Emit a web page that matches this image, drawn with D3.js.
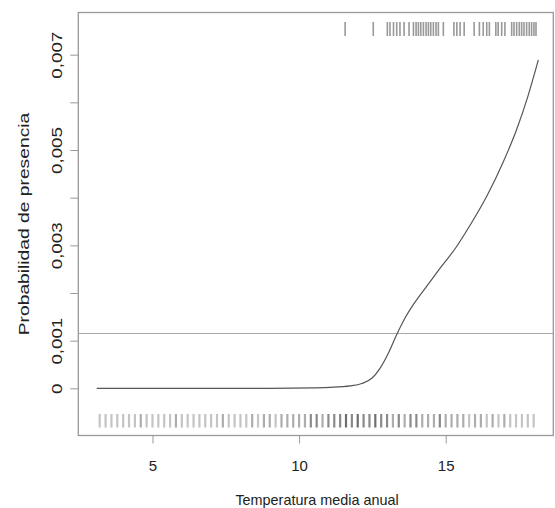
<!DOCTYPE html>
<html><head><meta charset="utf-8">
<script src="https://cdn.jsdelivr.net/npm/d3@7"></script>
<style>body{margin:0;background:#fff}svg{display:block}text{font-family:"Liberation Sans",Arial,sans-serif;fill:#222}</style>
</head><body><svg id="c" width="555" height="508"></svg>
<script>
// curve: probability of presence vs mean annual temperature
const curveX = [3.1, 6, 9, 10.5, 11.06, 11.74, 12.14, 12.48, 12.76, 13.04, 13.33, 13.6, 13.9, 14.35, 14.81, 15.38, 15.83, 16.4, 16.97, 17.42, 17.8, 18.16];
const curveY = [0, 0, 0, 0.00001, 0.00002, 0.00005, 0.0001, 0.00021, 0.00042, 0.00073, 0.00113, 0.00146, 0.00176, 0.00214, 0.00252, 0.00298, 0.00342, 0.00403, 0.00476, 0.00543, 0.00612, 0.00689];
const threshold = 0.00115;
// presences (top rug)
const rugTop = [11.57, 12.53, 13.01, 13.10, 13.22, 13.33, 13.44, 13.58, 13.75, 13.90, 13.99, 14.07, 14.15, 14.24, 14.33, 14.41, 14.49, 14.58, 14.67, 14.75, 14.92, 15.28, 15.38, 15.49, 15.63, 15.97, 16.15, 16.28, 16.40, 16.49, 16.71, 16.79, 16.91, 17.02, 17.25, 17.33, 17.42, 17.51, 17.59, 17.67, 17.76, 17.85, 17.93, 18.01, 18.08];
// all sites (bottom rug) with counts
const rugBottom = [3.2,3.4,3.6,3.8,4.0,4.2,4.4,4.6,4.8,5.0,5.2,5.4,5.6,5.8,6.0,6.2,6.4,6.6,6.8,7.0,7.2,7.4,7.6,7.8,8.0,8.2,8.4,8.6,8.8,9.0,9.2,9.4,9.6,9.8,10.0,10.2,10.4,10.6,10.8,11.0,11.2,11.4,11.6,11.8,12.0,12.2,12.4,12.6,12.8,13.0,13.2,13.4,13.6,13.8,14.0,14.2,14.4,14.6,14.8,15.0,15.2,15.4,15.6,15.8,16.0,16.2,16.4,16.6,16.8,17.0,17.2,17.4,17.6,17.8,18.0];
const rugBottomN = [1,1,1,1,1,1,1,2,1,1,1,1,1,2,1,1,1,1,1,1,1,2,1,1,1,1,2,1,2,2,1,2,2,2,2,2,3,3,2,3,3,3,4,3,4,3,3,4,3,3,2,3,2,3,3,2,2,2,3,2,2,2,2,1,2,2,1,2,1,2,1,1,1,1,1];
const xTicks = [5, 10, 15];
const yTicks = [0, 0.001, 0.002, 0.003, 0.004, 0.005, 0.006, 0.007];
const yLabels = {0: "0", 0.001: "0,001", 0.003: "0,003", 0.005: "0,005", 0.007: "0,007"};
const xTitle = "Temperatura media anual";
const yTitle = "Probabilidad de presencia";

const L = 78.3, R = 553.3, T = 12.5, B = 435.5;
const x = d3.scaleLinear().domain([2.47, 18.67]).range([L, R]);
const y = d3.scaleLinear().domain([-0.00099, 0.007885]).range([B, T]);
const svg = d3.select("#c");

// rugs
const gray = n => ["#c4c4c4", "#adadad", "#8a8a8a", "#6e6e6e"][Math.min(n, 4) - 1];
svg.append("g").selectAll("line").data(rugBottom).join("line")
  .attr("x1", d => x(d)).attr("x2", d => x(d)).attr("y1", 414).attr("y2", 427.5)
  .attr("stroke", (d, i) => gray(rugBottomN[i])).attr("stroke-width", 2.2);
svg.append("g").selectAll("line").data(rugTop).join("line")
  .attr("x1", d => x(d)).attr("x2", d => x(d)).attr("y1", 22).attr("y2", 36)
  .attr("stroke", "#999").attr("stroke-width", 1.6);

// threshold line
svg.append("line").attr("x1", L).attr("x2", R).attr("y1", y(threshold)).attr("y2", y(threshold))
  .attr("stroke", "#aaa").attr("stroke-width", 1);

// curve
const pts = curveX.map((v, i) => [v, curveY[i]]);
svg.append("path").datum(pts)
  .attr("d", d3.line().x(d => x(d[0])).y(d => y(d[1])).curve(d3.curveMonotoneX))
  .attr("fill", "none").attr("stroke", "#555").attr("stroke-width", 1.2);

// box
svg.append("rect").attr("x", L).attr("y", T).attr("width", R - L).attr("height", B - T)
  .attr("fill", "none").attr("stroke", "#999").attr("stroke-width", 1.3);

// x axis
const gx = svg.append("g").attr("transform", `translate(0,${B})`)
  .call(d3.axisBottom(x).tickValues(xTicks).tickSize(8).tickFormat(d3.format("d")));
gx.select(".domain").remove();
gx.selectAll("line").attr("stroke", "#999");
gx.selectAll("text").attr("font-size", 15).attr("dy", null).attr("y", 35.3).attr("fill", "#222");

// y axis
const gy = svg.append("g").attr("transform", `translate(${L},0)`)
  .call(d3.axisLeft(y).tickValues(yTicks).tickSize(8).tickFormat(d => yLabels[d] || ""));
gy.select(".domain").remove();
gy.selectAll("line").attr("stroke", "#999");
gy.selectAll("text").attr("font-size", 15).attr("x", null).attr("dy", null)
  .attr("text-anchor", "middle")
  .attr("transform", "translate(-16,0) scale(1,1.25) rotate(-90)").attr("fill", "#222");

// titles
svg.append("text").attr("x", 317).attr("y", 505).attr("text-anchor", "middle")
  .attr("font-size", 14.4).text(xTitle);
svg.append("text").attr("transform", "translate(29,224) scale(1,1.25) rotate(-90)").attr("text-anchor", "middle")
  .attr("font-size", 15.4).text(yTitle);
</script></body></html>
